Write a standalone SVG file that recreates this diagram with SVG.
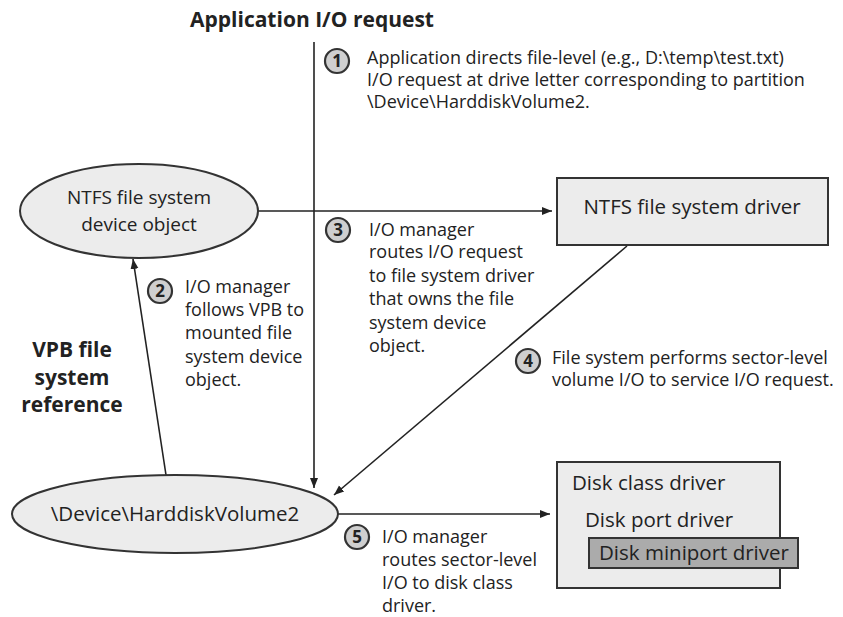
<svg xmlns="http://www.w3.org/2000/svg" width="843" height="617" viewBox="0 0 843 617">
<defs>
<marker id="ah" viewBox="0 0 10 10" refX="10" refY="5" markerWidth="10" markerHeight="10" markerUnits="userSpaceOnUse" orient="auto"><path d="M0,1 L10,5 L0,9 Z" fill="#222"/></marker>
<style>
.t{font-family:"Open Sans","Liberation Sans",sans-serif;font-size:18px;fill:#222}
.b{font-family:"Open Sans","Liberation Sans",sans-serif;font-size:21px;font-weight:bold;fill:#222}
.n{font-family:"Open Sans","Liberation Sans",sans-serif;font-size:20.5px;fill:#222}
.shape{fill:#ececec;stroke:#333;stroke-width:2}
.num{fill:#cfcfcf;stroke:#333;stroke-width:2.2}
.numt{font-family:"Open Sans","Liberation Sans",sans-serif;font-size:17px;font-weight:bold;fill:#222;text-anchor:middle}
.c{stroke:#222;stroke-width:1.6;fill:none}
</style>
</defs>
<rect width="843" height="617" fill="#fff"/>
<text class="b" x="190" y="27">Application I/O request</text>
<g id="connectors">
<line class="c" x1="314" y1="42" x2="314" y2="488" marker-end="url(#ah)"/>
<line class="c" x1="258" y1="211" x2="552" y2="211" marker-end="url(#ah)"/>
<line class="c" x1="166" y1="475" x2="133" y2="259" marker-end="url(#ah)"/>
<line class="c" x1="627" y1="246" x2="334" y2="495" marker-end="url(#ah)"/>
<line class="c" x1="338" y1="514" x2="550" y2="514" marker-end="url(#ah)"/>
</g>
<g id="ntfs-device-object">
<ellipse class="shape" cx="139" cy="211" rx="119" ry="47"/>
<text class="n" x="139" y="204" text-anchor="middle" style="font-size:19px">NTFS file system</text>
<text class="n" x="139" y="231" text-anchor="middle" style="font-size:19px">device object</text>
</g>
<g id="ntfs-driver">
<rect class="shape" x="557" y="178" width="271" height="67"/>
<text class="n" x="692" y="214" text-anchor="middle">NTFS file system driver</text>
</g>
<g id="harddisk-volume">
<ellipse class="shape" cx="175" cy="514" rx="163" ry="39"/>
<text class="n" x="175" y="521" text-anchor="middle">\Device\HarddiskVolume2</text>
</g>
<g id="disk-drivers">
<rect class="shape" x="557" y="462" width="223" height="126"/>
<text class="n" x="572" y="490">Disk class driver</text>
<text class="n" x="585" y="527">Disk port driver</text>
<rect x="589" y="538" width="209" height="30" fill="#ababab" stroke="#333" stroke-width="2"/>
<text class="n" x="599" y="560">Disk miniport driver</text>
</g>
<g id="step1">
<circle class="num" cx="337" cy="61" r="12"/>
<text class="numt" x="337" y="67">1</text>
<text class="t" x="367" y="64">Application directs file-level (e.g., D:\temp\test.txt)</text>
<text class="t" x="367" y="86">I/O request at drive letter corresponding to partition</text>
<text class="t" x="367" y="108">\Device\HarddiskVolume2.</text>
</g>
<g id="step2">
<circle class="num" cx="160" cy="291" r="12"/>
<text class="numt" x="160" y="297">2</text>
<text class="t" x="185" y="293">I/O manager</text>
<text class="t" x="185" y="316">follows VPB to</text>
<text class="t" x="185" y="339">mounted file</text>
<text class="t" x="185" y="363">system device</text>
<text class="t" x="185" y="386">object.</text>
</g>
<g id="vpb-label">
<text class="b" x="72" y="357" text-anchor="middle">VPB file</text>
<text class="b" x="72" y="385" text-anchor="middle">system</text>
<text class="b" x="72" y="412" text-anchor="middle">reference</text>
</g>
<g id="step3">
<circle class="num" cx="338" cy="230" r="12"/>
<text class="numt" x="338" y="236">3</text>
<text class="t" x="369" y="236">I/O manager</text>
<text class="t" x="369" y="258">routes I/O request</text>
<text class="t" x="369" y="282">to file system driver</text>
<text class="t" x="369" y="305">that owns the file</text>
<text class="t" x="369" y="329">system device</text>
<text class="t" x="369" y="352">object.</text>
</g>
<g id="step4">
<circle class="num" cx="528" cy="361" r="12"/>
<text class="numt" x="528" y="367">4</text>
<text class="t" x="552" y="364">File system performs sector-level</text>
<text class="t" x="552" y="386">volume I/O to service I/O request.</text>
</g>
<g id="step5">
<circle class="num" cx="357" cy="537" r="12"/>
<text class="numt" x="357" y="543">5</text>
<text class="t" x="382" y="543">I/O manager</text>
<text class="t" x="382" y="566">routes sector-level</text>
<text class="t" x="382" y="589">I/O to disk class</text>
<text class="t" x="382" y="612">driver.</text>
</g>
</svg>
